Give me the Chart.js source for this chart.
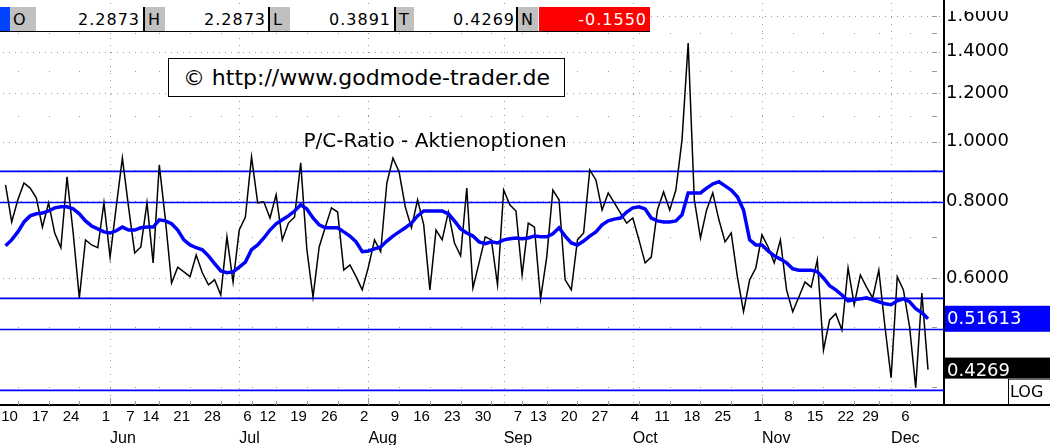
<!DOCTYPE html>
<html>
<head>
<meta charset="utf-8">
<title>P/C-Ratio - Aktienoptionen</title>
<script src="https://cdn.jsdelivr.net/npm/chart.js@4.4.1/dist/chart.umd.min.js"></script>
<style>
  html, body { margin: 0; padding: 0; background: #fff; }
  #wrap { position: relative; width: 1050px; height: 445px; overflow: hidden; font-family: "DejaVu Sans", sans-serif; }
  #chart { position: absolute; left: 0; top: 0; }
  #hdr { position: absolute; left: 0; top: 7px; width: 650px; height: 24px; border-bottom: 1px solid #000; background: #fff; font-size: 16px; letter-spacing: 1px; }
  #hdr div { position: absolute; top: 0; height: 24px; line-height: 25px; }
  #hdr .key { background: #c0c0c0; padding-left: 3px; box-sizing: border-box; border-left: 2px solid #000; }
  #hdr .val { text-align: right; }
  #copy { position: absolute; left: 168px; top: 58px; width: 397px; height: 39px; border: 1px solid #000; box-sizing: border-box; background: #fff;
          font-size: 22px; line-height: 37px; text-align: center; white-space: nowrap; }
  #title { position: absolute; left: 270px; top: 128px; width: 330px; text-align: center; font-size: 20px; white-space: nowrap; }
</style>
</head>
<body>
<div id="wrap">
  <canvas id="chart" width="1050" height="445"></canvas>
  <div id="hdr"></div>
  <div id="copy">© http://www.godmode-trader.de</div>
  <div id="title">P/C-Ratio - Aktienoptionen</div>
</div>
<script>
// daily put/call ratio, trading days 6 May - 9 Dec 2004
const pcRatio = [
  0.851, 0.741, 0.805, 0.857, 0.841, 0.811, 0.727, 0.796, 0.711, 0.673,
  0.877, 0.711, 0.558, 0.693, 0.680, 0.673, 0.796, 0.650, 0.784, 0.941,
  0.784, 0.660, 0.675, 0.796, 0.636, 0.917, 0.747, 0.590, 0.626, 0.615,
  0.604, 0.655, 0.613, 0.586, 0.597, 0.564, 0.701, 0.592, 0.719, 0.755,
  0.945, 0.796, 0.799, 0.752, 0.820, 0.693, 0.738, 0.755, 0.924, 0.668,
  0.560, 0.675, 0.727, 0.781, 0.769, 0.619, 0.631, 0.604, 0.575, 0.626,
  0.693, 0.663, 0.857, 0.941, 0.893, 0.784, 0.725, 0.805, 0.733, 0.575,
  0.719, 0.693, 0.769, 0.685, 0.653, 0.841, 0.579, 0.636, 0.701, 0.693,
  0.586, 0.835, 0.790, 0.772, 0.608, 0.738, 0.727, 0.556, 0.650, 0.835,
  0.805, 0.597, 0.575, 0.693, 0.711, 0.900, 0.867, 0.775, 0.826, 0.796,
  0.766, 0.738, 0.752, 0.693, 0.636, 0.650, 0.775, 0.829, 0.775, 0.835,
  1.007, 1.446, 0.805, 0.698, 0.775, 0.826, 0.747, 0.688, 0.711, 0.604,
  0.530, 0.597, 0.624, 0.706, 0.675, 0.636, 0.693, 0.575, 0.530, 0.560,
  0.592, 0.581, 0.643, 0.459, 0.514, 0.526, 0.495, 0.624, 0.544, 0.608,
  0.581, 0.558, 0.619, 0.501, 0.414, 0.604, 0.575, 0.501, 0.399, 0.568,
  0.4269
];

// blue average line
const pcAverage = [
  0.678, 0.693, 0.714, 0.741, 0.758, 0.764, 0.766, 0.772, 0.781, 0.784,
  0.784, 0.778, 0.764, 0.744, 0.730, 0.722, 0.714, 0.711, 0.717, 0.727,
  0.719, 0.719, 0.725, 0.727, 0.727, 0.747, 0.744, 0.736, 0.719, 0.693,
  0.680, 0.673, 0.668, 0.653, 0.634, 0.617, 0.613, 0.615, 0.626, 0.638,
  0.668, 0.680, 0.698, 0.719, 0.736, 0.747, 0.758, 0.772, 0.790, 0.778,
  0.752, 0.733, 0.725, 0.725, 0.725, 0.714, 0.703, 0.688, 0.663, 0.665,
  0.670, 0.675, 0.690, 0.703, 0.714, 0.725, 0.738, 0.758, 0.772, 0.772,
  0.772, 0.772, 0.764, 0.744, 0.722, 0.711, 0.703, 0.688, 0.683, 0.688,
  0.685, 0.693, 0.696, 0.698, 0.696, 0.698, 0.703, 0.701, 0.701, 0.709,
  0.725, 0.703, 0.685, 0.680, 0.690, 0.703, 0.714, 0.733, 0.744, 0.749,
  0.752, 0.769, 0.781, 0.784, 0.778, 0.752, 0.744, 0.741, 0.741, 0.744,
  0.761, 0.826, 0.826, 0.826, 0.841, 0.854, 0.861, 0.848, 0.835, 0.814,
  0.775, 0.693, 0.680, 0.680, 0.665, 0.653, 0.645, 0.636, 0.622, 0.619,
  0.619, 0.619, 0.615, 0.601, 0.584, 0.575, 0.564, 0.552, 0.554, 0.556,
  0.558, 0.554, 0.550, 0.546, 0.544, 0.552, 0.556, 0.550, 0.536, 0.528,
  0.51613
];

// horizontal marker lines (blue)
const levelLines = [0.895, 0.797, 0.557, 0.496, 0.395];

// x axis: weekly ticks (trading day index) and month starts
const weekTickIdx = [2, 7, 12, 17, 21, 25, 30, 35, 40, 44, 49, 54, 59, 64, 69, 74, 79, 84, 88, 93, 98, 103, 108, 113, 118, 123, 128, 133, 138, 142, 147];
const weekTickLabels = ['10', '17', '24', '1', '7', '14', '21', '28', '6', '12', '19', '26', '2', '9', '16', '23', '30', '7', '13', '20', '27', '4', '11', '18', '25', '1', '8', '15', '22', '29', '6'];
const monthIdx = [17, 38, 59, 81, 102, 123, 144];
const monthLabels = ['Jun', 'Jul', 'Aug', 'Sep', 'Oct', 'Nov', 'Dec'];

// y axis (log)
const yTickVals = [0.4, 0.5, 0.6, 0.7, 0.8, 0.9, 1.0, 1.1, 1.2, 1.3, 1.4, 1.5, 1.6];
const yLabelVals = [0.6, 0.8, 1.0, 1.2, 1.4, 1.6];

// header strip
const headerKeys = ['O', 'H', 'L', 'T', 'N'];
const headerVals = ['2.2873', '2.2873', '0.3891', '0.4269', '-0.1550'];

const FONT = '"Liberation Sans", Arial, sans-serif';
const WIDE = '"DejaVu Sans", sans-serif';

function buildHeader() {
    const hdr = document.getElementById('hdr');
    const keyX = [10, 143, 268, 394, 516];
    const keyW = [26, 22, 22, 20, 22];
    const valEnd = [140, 266, 391, 515];
    let html = '<div style="left:0;width:10px;background:#0044ff"></div>';
    headerKeys.forEach((k, i) => {
        html += `<div class="key" style="left:${keyX[i]}px;width:${keyW[i]}px${i === 0 ? ';border-left:none' : ''}">${k}</div>`;
        if (i < 4) {
            const l = keyX[i] + keyW[i];
            html += `<div class="val" style="left:${l}px;width:${valEnd[i] - l}px">${headerVals[i]}</div>`;
        }
    });
    html += `<div class="val" style="left:539px;width:111px;background:#ff0000;color:#fff;padding-right:3px;box-sizing:border-box">${headerVals[4]}</div>`;
    hdr.innerHTML = html;
}

const gridPlugin = {
    id: 'dotGrid',
    beforeDatasetsDraw(chart) {
        const {ctx, chartArea: a, scales: {x, y}} = chart;
        ctx.save();
        ctx.fillStyle = '#9a9a9a';
        yTickVals.forEach(v => {
            const py = Math.round(y.getPixelForValue(v));
            if (yLabelVals.includes(v)) {
                for (let px = a.left + 3; px < a.right; px += 6) ctx.fillRect(px, py, 1, 1);
            } else {
                weekTickIdx.forEach(i => ctx.fillRect(Math.round(x.getPixelForValue(i)), py, 1, 1));
            }
            // short tick at the axis
            ctx.fillRect(a.right - 12, py, 5, 1);
        });
        monthIdx.forEach(i => {
            const px = Math.round(x.getPixelForValue(i));
            for (let py = a.top + 3; py < a.bottom; py += 7) ctx.fillRect(px, py, 1, 1);
        });
        // weekly ticks above the date axis
        weekTickIdx.forEach(i => {
            const px = Math.round(x.getPixelForValue(i));
            const tall = monthIdx.includes(i);
            ctx.fillRect(px, a.bottom - (tall ? 7 : 4), 1, tall ? 7 : 4);
        });
        // blue marker lines
        ctx.strokeStyle = '#0000ff';
        ctx.lineWidth = 1.6;
        levelLines.forEach(v => {
            const py = y.getPixelForValue(v);
            ctx.beginPath();
            ctx.moveTo(a.left, py);
            ctx.lineTo(a.right, py);
            ctx.stroke();
        });
        ctx.restore();
    }
};

const valueBoxPlugin = {
    id: 'valueBoxes',
    afterDraw(chart) {
        const {ctx, chartArea: a, scales: {y}} = chart;
        const lastAvg = pcAverage[pcAverage.length - 1];
        const lastVal = pcRatio[pcRatio.length - 1];
        const w = chart.width - a.right - 1;
        ctx.save();
        // top of the price column is cut off in the original
        ctx.fillStyle = '#fff';
        ctx.fillRect(a.right + 1, 0, w, 11);
        ctx.font = '18px ' + WIDE;
        ctx.textBaseline = 'middle';
        ctx.textAlign = 'left';
        // average
        const ya = y.getPixelForValue(lastAvg);
        ctx.fillStyle = '#0000ff';
        ctx.fillRect(a.right + 1, ya - 13, w, 26);
        ctx.fillStyle = '#fff';
        ctx.fillText(lastAvg.toFixed(5), a.right + 3, ya + 1);
        // last value
        const yv = y.getPixelForValue(lastVal);
        ctx.fillStyle = '#000';
        ctx.fillRect(a.right + 1, yv - 12, w, 21);
        ctx.fillStyle = '#fff';
        ctx.fillText(lastVal.toFixed(4), a.right + 3, yv + 2);
        // LOG box
        const lx = a.right + 64;
        ctx.fillStyle = '#fff';
        ctx.fillRect(lx, yv + 9, chart.width - lx, a.bottom - yv - 9);
        ctx.strokeStyle = '#000';
        ctx.lineWidth = 1;
        ctx.strokeRect(lx + 0.5, yv + 9.5, chart.width - lx, a.bottom - yv - 9);
        ctx.fillStyle = '#000';
        ctx.font = '16px ' + WIDE;
        ctx.fillText('LOG', lx + 2, (yv + 9 + a.bottom) / 2 + 1);
        // axis line continues under the label column
        ctx.fillRect(a.right, a.bottom - 1, chart.width - a.right, 2);
        ctx.restore();
    }
};

function noPad(s) {
    s.paddingTop = 0;
    s.paddingBottom = 0;
    s.paddingLeft = 0;
    s.paddingRight = 0;
}

function drawChart() {
    const ctx = document.getElementById('chart').getContext('2d');
    new Chart(ctx, {
        type: 'line',
        data: {
            labels: pcRatio.map((v, i) => i),
            datasets: [{
                label: 'Durchschnitt',
                data: pcAverage,
                borderColor: '#0000ff',
                borderWidth: 3.5,
                pointRadius: 0,
                tension: 0
            }, {
                label: 'P/C-Ratio',
                data: pcRatio,
                borderColor: '#000000',
                borderWidth: 1.5,
                pointRadius: 0,
                tension: 0
            }]
        },
        options: {
            responsive: false,
            animation: false,
            devicePixelRatio: 1,
            layout: { padding: 0 },
            plugins: { legend: { display: false }, tooltip: { enabled: false } },
            scales: {
                x: {
                    type: 'linear',
                    min: -0.9,
                    max: 152.6,
                    grid: { display: false, drawTicks: false },
                    border: { display: true, color: '#000', width: 2 },
                    afterBuildTicks: s => { s.ticks = weekTickIdx.map(v => ({ value: v })); },
                    afterFit: s => { s.height = 19; noPad(s); },
                    ticks: {
                        autoSkip: false, maxRotation: 0, align: 'end', padding: 3,
                        color: '#000', font: { family: FONT, size: 15 },
                        callback: (v, i) => weekTickLabels[i]
                    }
                },
                x2: {
                    type: 'linear',
                    position: 'bottom',
                    weight: 1,
                    min: -0.9,
                    max: 152.6,
                    grid: { display: false, drawTicks: false },
                    border: { display: false },
                    afterBuildTicks: s => { s.ticks = monthIdx.map(v => ({ value: v })); },
                    afterFit: s => { s.height = 21; noPad(s); },
                    ticks: {
                        autoSkip: false, maxRotation: 0, align: 'start', padding: 5,
                        color: '#000', font: { family: FONT, size: 16 },
                        callback: (v, i) => monthLabels[i]
                    }
                },
                y: {
                    type: 'logarithmic',
                    position: 'right',
                    min: 0.374,
                    max: 1.698,
                    grid: { display: false, drawTicks: false },
                    border: { display: true, color: '#000', width: 2 },
                    afterBuildTicks: s => { s.ticks = yTickVals.map(v => ({ value: v })); },
                    afterFit: s => { s.width = 106; noPad(s); },
                    ticks: {
                        autoSkip: false, padding: 2, color: '#000', font: { family: WIDE, size: 18 },
                        callback: v => yLabelVals.includes(v) ? v.toFixed(4) : ''
                    }
                }
            }
        },
        plugins: [gridPlugin, valueBoxPlugin]
    });
}

document.addEventListener('DOMContentLoaded', function() {
    buildHeader();
    drawChart();
});
</script>
</body>
</html>
